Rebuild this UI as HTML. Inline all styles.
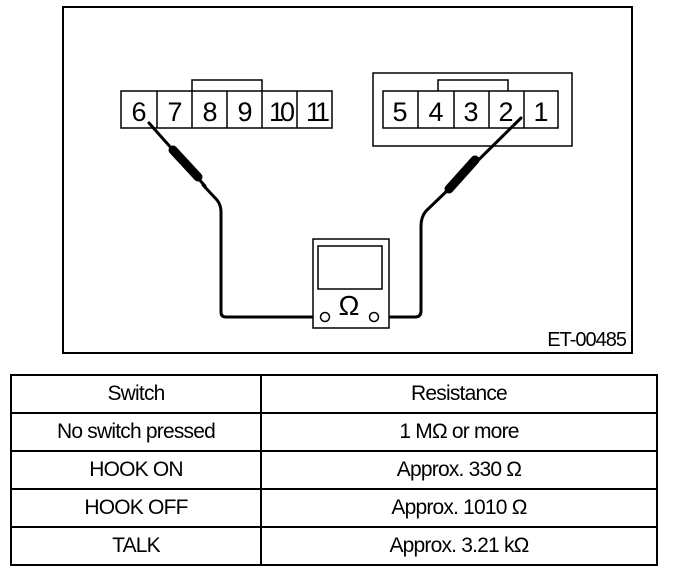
<!DOCTYPE html>
<html><head><style>
body{margin:0;background:#fff;width:688px;height:570px;overflow:hidden;font-family:"Liberation Sans",sans-serif}
table{position:absolute;left:10px;top:374px;width:648px;height:192px;border-collapse:collapse;border:2px solid #000}
td{border:2px solid #000;text-align:center;font-size:21px;padding:0;height:36px;letter-spacing:-0.8px}
</style></head><body>
<svg width="688" height="370" style="position:absolute;left:0;top:0" font-family="Liberation Sans, sans-serif">
<rect x="63" y="7" width="569" height="346" fill="none" stroke="#000" stroke-width="2"/>
<g fill="#fff" stroke="#000" stroke-width="1.5">
<polyline points="192,91 192,80 262,80 262,91" fill="none"/>
<rect x="121" y="91" width="211" height="37"/>
<line x1="157" y1="91" x2="157" y2="128"/><line x1="192" y1="91" x2="192" y2="128"/><line x1="227" y1="91" x2="227" y2="128"/><line x1="262" y1="91" x2="262" y2="128"/><line x1="297" y1="91" x2="297" y2="128"/>
<rect x="373" y="73" width="199" height="73"/>
<polyline points="438,91 438,80 508,80 508,91" fill="none"/>
<rect x="383" y="91" width="175" height="37"/>
<line x1="418" y1="91" x2="418" y2="128"/><line x1="454" y1="91" x2="454" y2="128"/><line x1="489" y1="91" x2="489" y2="128"/><line x1="524" y1="91" x2="524" y2="128"/>
</g>
<g font-size="27" text-anchor="middle">
<text x="139" y="121">6</text><text x="175" y="121">7</text><text x="210" y="121">8</text><text x="245" y="121">9</text>
<text x="280" y="121" letter-spacing="-4">10</text><text x="316" y="121" letter-spacing="-4">11</text>
<text x="400" y="121">5</text><text x="436" y="121">4</text><text x="471" y="121">3</text><text x="506" y="121">2</text><text x="541" y="121">1</text>
</g>
<g fill="none" stroke="#000" stroke-linecap="round">
<line x1="149" y1="123" x2="205" y2="186" stroke-width="3"/>
<line x1="173" y1="150" x2="198" y2="177" stroke-width="9"/>
<path d="M203,185 L217,200 Q221,205 221,212 L221,312 Q221,317 226,317 L318,317" stroke-width="3"/>
<line x1="521" y1="118" x2="449" y2="189" stroke-width="3"/>
<line x1="475" y1="160" x2="449" y2="189" stroke-width="9"/>
<path d="M452,186 L426,211 Q421,217 421,226 L421,311 Q421,317 415,317 L379,317" stroke-width="3"/>
</g>
<rect x="313" y="239" width="76" height="89" fill="#fff" stroke="#000" stroke-width="1.5"/>
<rect x="318" y="246" width="64" height="43" fill="#fff" stroke="#000" stroke-width="1.5"/>
<circle cx="325" cy="317" r="4.5" fill="#fff" stroke="#000" stroke-width="1.5"/>
<circle cx="374" cy="317" r="4.5" fill="#fff" stroke="#000" stroke-width="1.5"/>
<text x="349" y="315" font-size="28" text-anchor="middle">Ω</text>
<text x="626" y="346" font-size="20" text-anchor="end" letter-spacing="-1">ET-00485</text>
</svg>
<table>
<tr><td style="width:248px">Switch</td><td>Resistance</td></tr>
<tr><td>No switch pressed</td><td>1 MΩ or more</td></tr>
<tr><td>HOOK ON</td><td>Approx. 330 Ω</td></tr>
<tr><td>HOOK OFF</td><td>Approx. 1010 Ω</td></tr>
<tr><td>TALK</td><td>Approx. 3.21 kΩ</td></tr>
</table>
</body></html>
